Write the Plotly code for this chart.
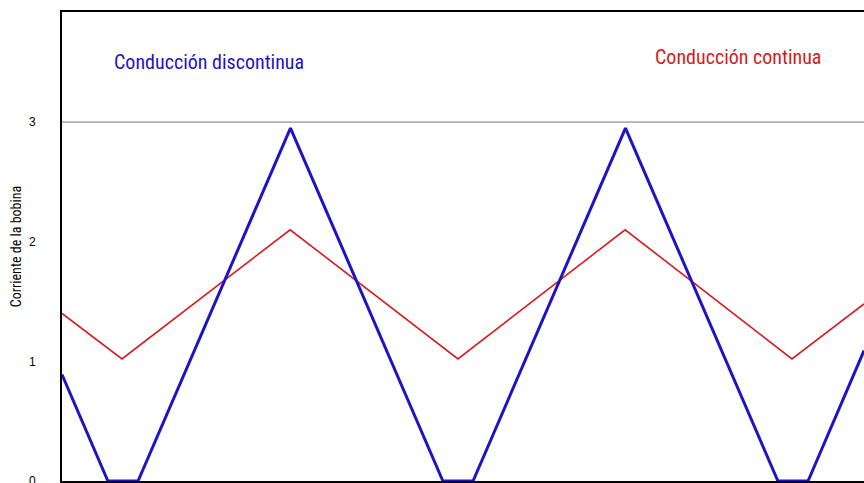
import plotly.graph_objects as go

# Inductor current waveforms (time in µs, current in A)
t_disc = [0.0, 1.37, 2.27, 6.82, 11.37, 12.27, 16.82, 21.37, 22.27, 23.94]
i_disc = [0.89, 0.0, 0.0, 2.95, 0.0, 0.0, 2.95, 0.0, 0.0, 1.09]

t_cont = [0.0, 1.79, 6.81, 11.82, 16.81, 21.79, 23.94]
i_cont = [1.40, 1.02, 2.10, 1.02, 2.10, 1.02, 1.48]

y_ticks = [0, 1, 2, 3]
y_tick_labels = ["0", "1", "2", "3"]
ref_level = 3

BLUE = "#1f14c4"
RED = "#d61a20"
NARROW = "Liberation Sans Narrow, Arial Narrow, Roboto Condensed, Roboto, sans-serif"

fig = go.Figure()
fig.add_trace(go.Scatter(x=t_cont, y=i_cont, mode="lines",
                         line=dict(color=RED, width=1.6), showlegend=False))
fig.add_trace(go.Scatter(x=t_disc, y=i_disc, mode="lines",
                         line=dict(color=BLUE, width=3), showlegend=False))

# reference level line
fig.add_shape(type="line", xref="paper", x0=0, x1=1, yref="y",
              y0=ref_level, y1=ref_level,
              line=dict(color="#777777", width=1), layer="below")

fig.add_annotation(x=0.183, y=0.893, xref="paper", yref="paper",
                   xanchor="center", yanchor="middle",
                   text="Conducción discontinua", showarrow=False,
                   font=dict(family=NARROW, size=20, color=BLUE))
fig.add_annotation(x=0.843, y=0.904, xref="paper", yref="paper",
                   xanchor="center", yanchor="middle",
                   text="Conducción continua", showarrow=False,
                   font=dict(family=NARROW, size=20, color=RED))

fig.update_layout(
    width=864, height=483,
    margin=dict(l=62, r=0, t=12, b=2, autoexpand=False),
    paper_bgcolor="white", plot_bgcolor="white",
    xaxis=dict(range=[0, 23.94], showgrid=False, zeroline=False,
               showticklabels=False, ticks="", showline=True,
               linecolor="black", linewidth=2, mirror=True,
               automargin=False),
    yaxis=dict(range=[0, 3.92], showgrid=False, zeroline=False,
               tickvals=y_ticks, ticktext=y_tick_labels, ticks="",
               ticklabelstandoff=22, ticklabeloverflow="allow",
               tickfont=dict(family="Liberation Sans, Arial, sans-serif",
                             size=12, color="black"),
               showline=True, linecolor="black", linewidth=2,
               automargin=False,
               title=dict(text="Corriente de la bobina", standoff=4,
                          font=dict(family=NARROW, size=14, color="black"))),
)

fig.write_html("out.html")
